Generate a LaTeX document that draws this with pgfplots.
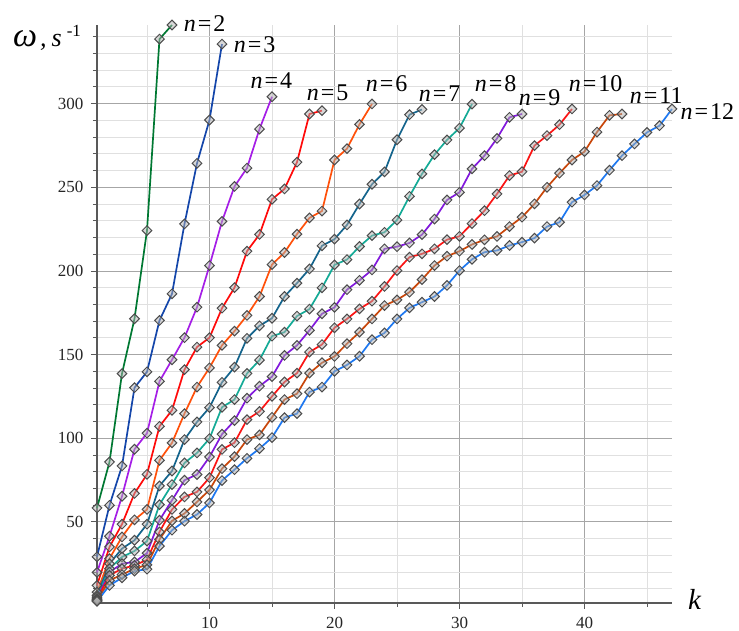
\documentclass[border=0pt]{standalone}
\usepackage{fontspec}
\setmainfont{Liberation Serif}
\usepackage{pgfplots}
\pgfplotsset{compat=1.18}

\definecolor{cA}{RGB}{0,120,50}
\definecolor{cB}{RGB}{20,70,170}
\definecolor{cC}{RGB}{165,30,230}
\definecolor{cD}{RGB}{255,10,10}
\definecolor{cE}{RGB}{255,80,10}
\definecolor{cF}{RGB}{20,100,140}
\definecolor{cG}{RGB}{20,170,150}
\definecolor{cH}{RGB}{130,25,220}
\definecolor{cI}{RGB}{250,20,20}
\definecolor{cJ}{RGB}{200,70,10}
\definecolor{cK}{RGB}{30,120,240}

\newcommand{\nlab}[3]{\node[anchor=base west, inner sep=0pt, font=\fontsize{24}{24}\selectfont] at (axis cs:#1,#2) {\textit{n}\kern2pt=\kern2pt#3};}

\begin{document}
\begin{tikzpicture}
\begin{axis}[
    name=ax,
    scale only axis,
    width=575pt, height=578pt,
    xmin=1, xmax=47, ymin=1.5, ymax=347,
    axis lines=left,
    axis line style={-, draw=black!65, line width=1.2pt},
    xtick={10,20,30,40}, ytick={50,100,...,300},
    minor xtick={5,15,...,45}, minor ytick={10,20,...,340},
    grid=both,
    major grid style={black!35, line width=0.8pt},
    minor grid style={black!12, line width=0.8pt},
    tick align=outside,
    major tick length=6pt, minor tick length=4pt,
    tick style={black!65, line width=0.8pt},
    tick label style={font=\fontsize{17}{17}\selectfont, text=black!85},
    xticklabel style={yshift=-5pt},
    yticklabel style={xshift=-4pt},
    /pgf/number format/assume math mode=true,
    clip=false,
    every axis plot/.append style={line width=1.7pt, mark=square*,
        mark size=3.4pt,
        mark options={rotate=45, draw=black!70, fill=black!30, fill opacity=0.5, line width=1pt, solid}},
]
% n=2
\addplot[cA] coordinates {(1,58.3)(2,85.8)(3,138.6)(4,171.4)(5,224.1)(6,338.6)(7,347)};
% n=3
\addplot[cB] coordinates {(1,29.1)(2,59.9)(3,83.4)(4,130.2)(5,139.7)(6,170.4)(7,186.3)(8,228.1)(9,264.3)(10,290.2)(11,335.6)};
% n=4
\addplot[cC] coordinates {(1,19.8)(2,41.4)(3,65.3)(4,93.4)(5,103)(6,134)(7,146.9)(8,160.1)(9,178.3)(10,203.2)(11,229.6)(12,250.5)(13,261.5)(14,284.8)(15,304.1)};
% n=5
\addplot[cD] coordinates {(1,12)(2,35)(3,48.6)(4,67)(5,78.4)(6,107.1)(7,116.7)(8,141)(9,154.5)(10,160.1)(11,177.7)(12,190)(13,211.8)(14,221.8)(15,242.8)(16,249)(17,265)(18,293.8)(19,295.8)};
% n=6
\addplot[cE] coordinates {(1,8)(2,28)(3,41)(4,51.2)(5,57.4)(6,86.8)(7,97.2)(8,114.7)(9,130.6)(10,142.1)(11,155.5)(12,164)(13,173.4)(14,184.7)(15,203.8)(16,211)(17,222)(18,231.7)(19,235.8)(20,266.3)(21,273.1)(22,287.6)(23,299.8)};
% n=7
\addplot[cF] coordinates {(1,6)(2,25)(3,34)(4,39)(5,48.6)(6,71.5)(7,80.4)(8,99.2)(9,109.7)(10,118.3)(11,133.4)(12,142.5)(13,159.7)(14,167.2)(15,171.7)(16,184.7)(17,192.7)(18,201.2)(19,215)(20,219)(21,227.5)(22,240)(23,251.8)(24,259.2)(25,278.4)(26,293.4)(27,296.5)};
% n=8
\addplot[cG] coordinates {(1,5)(2,22)(3,29)(4,32.6)(5,38.5)(6,60.3)(7,72.3)(8,85.2)(9,91.2)(10,99.8)(11,118.5)(12,123.1)(13,138.7)(14,146.7)(15,161)(16,163.4)(17,173)(18,177.2)(19,189.9)(20,203.6)(21,206.8)(22,214.6)(23,221.1)(24,223.1)(25,230.4)(26,244.6)(27,258)(28,269.5)(29,278.3)(30,285.4)(31,299.7)};
% n=9
\addplot[cH] coordinates {(1,4)(2,20)(3,25)(4,26)(5,31.3)(6,51)(7,62.9)(8,74.9)(9,78.3)(10,88.8)(11,102.4)(12,110.5)(13,123.9)(14,131.1)(15,136.8)(16,149.5)(17,155.5)(18,164.5)(19,174.4)(20,178.2)(21,188.8)(22,194.4)(23,200.6)(24,213.2)(25,214.5)(26,216.7)(27,221.7)(28,231)(29,242.4)(30,247)(31,261)(32,268.9)(33,279.2)(34,291.8)(35,293.8)};
% n=10
\addplot[cI] coordinates {(1,3.5)(2,18)(3,22)(4,24)(5,27.3)(6,44)(7,57.4)(8,64.9)(9,67.9)(10,76.4)(11,93.3)(12,97.3)(13,111.1)(14,116)(15,125)(16,133.6)(17,138.9)(18,151.5)(19,156)(20,166)(21,171.3)(22,177.3)(23,181.9)(24,190.7)(25,200.2)(26,208.2)(27,210.2)(28,213.2)(29,218.7)(30,220.7)(31,228.3)(32,236)(33,246)(34,257)(35,259.3)(36,274.9)(37,280.9)(38,287.4)(39,296.8)};
% n=11
\addplot[cJ] coordinates {(1,3)(2,15)(3,18.5)(4,22)(5,24.3)(6,39.5)(7,50.6)(8,55)(9,61.9)(10,69.1)(11,81.8)(12,89)(13,99.2)(14,102)(15,112.5)(16,123.1)(17,126.6)(18,138.9)(19,145.1)(20,148.9)(21,156.5)(22,163.4)(23,171.3)(24,179.3)(25,182.7)(26,187.3)(27,194.8)(28,203.2)(29,208.8)(30,211.8)(31,215.8)(32,218.6)(33,220.6)(34,226.5)(35,232.1)(36,240.1)(37,250)(38,258.4)(39,266.3)(40,271.3)(41,283)(42,293)(43,293.8)};
% n=12
\addplot[cK] coordinates {(1,2.5)(2,12)(3,16.6)(4,20.6)(5,21.7)(6,35.5)(7,45)(8,50.4)(9,54.4)(10,61.3)(11,74.7)(12,81.2)(13,88)(14,93.8)(15,100.4)(16,112.3)(17,114.7)(18,127.6)(19,130.6)(20,140)(21,143.8)(22,149)(23,158.9)(24,162.9)(25,171.3)(26,177.9)(27,181.3)(28,184.7)(29,191.3)(30,200.2)(31,206.9)(32,211.2)(33,212.2)(34,215.2)(35,217.2)(36,219.6)(37,226.5)(38,229.1)(39,241.1)(40,245.4)(41,251)(42,260.2)(43,268.9)(44,275.9)(45,282.8)(46,286.8)(47,296.8)};

% curve labels
\nlab{7.94}{343.1}{2}
\nlab{11.94}{330.6}{3}
\nlab{13.28}{309.3}{4}
\nlab{17.78}{301.7}{5}
\nlab{22.5}{307.3}{6}
\nlab{26.74}{301.3}{7}
\nlab{31.22}{307.3}{8}
\nlab{34.74}{298.7}{9}
\nlab{38.74}{307.3}{10}
\nlab{43.62}{299.8}{11}
\nlab{47.68}{290.8}{12}

% axis names
\node[anchor=base west, inner sep=0pt, xshift=-84pt, yshift=-22pt] at (rel axis cs:0,1)
  {{\fontsize{34}{34}\selectfont\textit{ω}}\kern3pt{\fontsize{26}{26}\selectfont\textit{,\kern5pt s}}\kern5pt\raisebox{10pt}{\fontsize{17}{17}\selectfont -1}};
\node[anchor=base west, inner sep=0pt, xshift=16pt, yshift=-7pt] at (rel axis cs:1,0)
  {\fontsize{29}{29}\selectfont\textit{k}};
\end{axis}
\pgfresetboundingbox
\path ([xshift=-97pt,yshift=-28pt]ax.south west) rectangle ([xshift=67pt,yshift=25pt]ax.north east);
\end{tikzpicture}
\end{document}
